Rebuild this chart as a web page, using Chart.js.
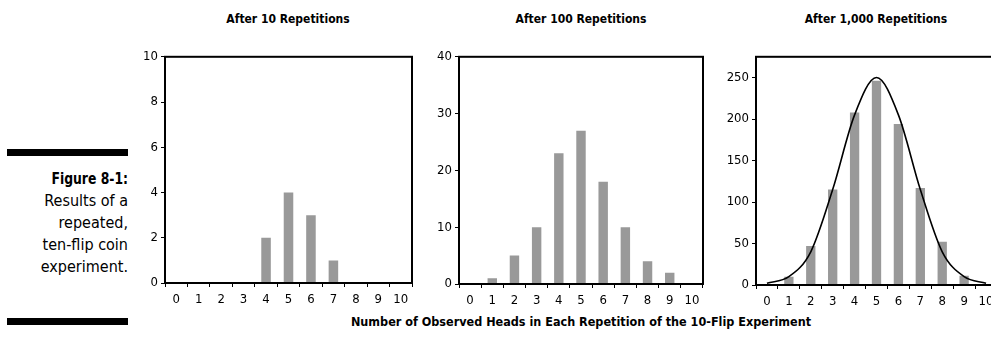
<!DOCTYPE html>
<html>
<head>
<meta charset="utf-8">
<script src="https://cdn.jsdelivr.net/npm/chart.js@4.4.0/dist/chart.umd.min.js"></script>
<style>
  body {
    margin: 0;
    width: 991px;
    height: 340px;
    overflow: hidden;
    position: relative;
    background: #fff;
    font-family: "DejaVu Sans Condensed", "Liberation Sans", sans-serif;
    color: #000;
  }
  .rule { position: absolute; left: 7px; width: 121px; height: 7px; background: #000; }
  #caption {
    position: absolute; left: 0; top: 168px; width: 128px;
    text-align: right; font-size: 16px; line-height: 22px;
  }
  #caption b { display: inline-block; font-size: 16px; transform: scaleX(0.86); transform-origin: right center; }
  .title {
    position: absolute; top: 12px; width: 200px; margin-left: -100px;
    text-align: center; font-weight: bold; font-size: 12px;
  }
  #xtitle {
    position: absolute; top: 314px; left: 281px; width: 600px;
    text-align: center; font-weight: bold; font-size: 12.5px;
  }
  canvas { position: absolute; }
</style>
</head>
<body>
<div class="rule" style="top:149px"></div>
<div class="rule" style="top:318px"></div>
<div id="caption"><b>Figure 8-1:</b><br>Results of a<br>repeated,<br>ten-flip coin<br>experiment.</div>

<div class="title" style="left:288px">After 10 Repetitions</div>
<div class="title" style="left:581px">After 100 Repetitions</div>
<div class="title" style="left:876px">After 1,000 Repetitions</div>
<div id="xtitle">Number of Observed Heads in Each Repetition of the 10-Flip Experiment</div>

<canvas id="c1" width="290" height="266" style="left:130px;top:46px"></canvas>
<canvas id="c2" width="295" height="266" style="left:420px;top:46px"></canvas>
<canvas id="c3" width="295" height="266" style="left:715px;top:46px"></canvas>

<script>
var heads = ["0", "1", "2", "3", "4", "5", "6", "7", "8", "9", "10"];
var counts10 = [0, 0, 0, 0, 2, 4, 3, 1, 0, 0, 0];
var counts100 = [0, 1, 5, 10, 23, 27, 18, 10, 4, 2, 0];
var counts1000 = [0, 10, 47, 115, 208, 246, 194, 117, 52, 11, 0];
var curve1000 = [2, 10, 40, 115, 205, 250, 205, 115, 40, 10, 2];

var yMax = [10, 40, 275];
var yStep = [2, 10, 50];

var FONT = "'DejaVu Sans Condensed', 'Liberation Sans', sans-serif";
var BAR = "#999999";

// box round the plot area
var frame = {
  id: "frame",
  afterDraw: function(chart) {
    var a = chart.chartArea;
    var c = chart.ctx;
    c.save();
    c.strokeStyle = "#000";
    c.lineWidth = 2;
    c.strokeRect(a.left, a.top, a.right - a.left, a.bottom - a.top);
    c.restore();
  }
};

function makeChart(id, datasets, i, yWidth, xHeight, padRight) {
  return new Chart(document.getElementById(id), {
    type: "bar",
    data: { labels: heads, datasets: datasets },
    plugins: [frame],
    options: {
      responsive: false,
      animation: false,
      layout: { padding: { top: 10, right: padRight, left: 0, bottom: 0 } },
      plugins: { legend: { display: false }, tooltip: { enabled: false } },
      scales: {
        x: {
          offset: true,
          grid: { offset: true, drawOnChartArea: false, drawTicks: true, tickLength: 4, color: "#000", lineWidth: 1 },
          border: { color: "#000", width: 2 },
          ticks: { color: "#000", padding: 5, font: { family: FONT, size: 13 }, maxRotation: 0, autoSkip: false },
          afterFit: function(s) { s.height = xHeight; }
        },
        y: {
          min: 0,
          max: yMax[i],
          grid: { drawOnChartArea: false, drawTicks: true, tickLength: 4, color: "#000", lineWidth: 1 },
          border: { color: "#000", width: 2 },
          ticks: { stepSize: yStep[i], color: "#000", padding: 3, font: { family: FONT, size: 13 } },
          afterBuildTicks: function(s) {
            s.ticks = s.ticks.filter(function(t) { return t.value % yStep[i] === 0; });
          },
          afterFit: function(s) { s.width = yWidth; }
        }
      }
    }
  });
}

function barSet(values) {
  return {
    type: "bar",
    data: values,
    backgroundColor: BAR,
    barPercentage: 0.85,
    categoryPercentage: 0.5,
    order: 2
  };
}

makeChart("c1", [barSet(counts10)], 0, 35, 29, 8);
makeChart("c2", [barSet(counts100)], 1, 39, 28, 12);
makeChart("c3", [
  {
    type: "line",
    data: curve1000,
    borderColor: "#000",
    borderWidth: 1.6,
    pointRadius: 0,
    cubicInterpolationMode: "monotone",
    fill: false,
    order: 1
  },
  barSet(counts1000)
], 2, 41, 27, 13);
</script>
</body>
</html>
